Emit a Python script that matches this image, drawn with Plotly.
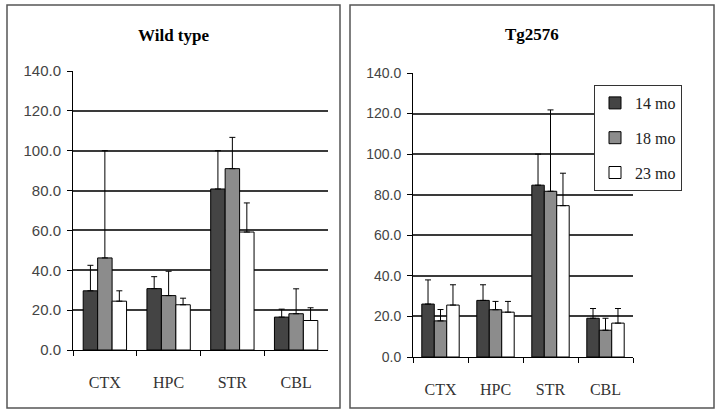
import plotly.graph_objects as go

categories = ["CTX", "HPC", "STR", "CBL"]
series_names = ["14 mo", "18 mo", "23 mo"]

# Wild type: means and upper error magnitudes
wt_14 = [29.7, 30.8, 80.8, 16.5]
wt_18 = [46.2, 27.3, 91.0, 18.2]
wt_23 = [24.5, 22.7, 59.2, 14.8]
wt_14_err = [12.8, 6.0, 19.2, 4.0]
wt_18_err = [53.8, 12.2, 15.7, 12.5]
wt_23_err = [5.2, 3.3, 14.6, 6.4]

# Tg2576
tg_14 = [26.1, 27.9, 84.7, 19.1]
tg_18 = [17.8, 23.3, 81.7, 13.2]
tg_23 = [25.6, 22.1, 74.6, 16.7]
tg_14_err = [11.9, 7.7, 15.3, 4.8]
tg_18_err = [5.6, 4.1, 40.1, 5.9]
tg_23_err = [10.0, 5.3, 16.0, 7.2]

y_ticks = [0, 20, 40, 60, 80, 100, 120, 140]
y_tick_text = ["0.0", "20.0", "40.0", "60.0", "80.0", "100.0", "120.0", "140.0"]

colors = ["#444444", "#8c8c8c", "#ffffff"]

W, H = 720, 414

fig = go.Figure()

panels = [
    ("x", "y", [wt_14, wt_18, wt_23], [wt_14_err, wt_18_err, wt_23_err], False),
    ("x2", "y2", [tg_14, tg_18, tg_23], [tg_14_err, tg_18_err, tg_23_err], True),
]
for xa, ya, vals, errs, show in panels:
    for i, name in enumerate(series_names):
        fig.add_trace(go.Bar(
            x=categories, y=vals[i], name=name,
            xaxis=xa, yaxis=ya,
            marker=dict(color=colors[i], line=dict(color="black", width=1)),
            error_y=dict(type="data", array=errs[i], symmetric=False,
                         arrayminus=[0] * len(categories),
                         color="black", thickness=1, width=3),
            showlegend=show, legendgroup=name,
        ))

def px_x(v):
    return v / W

def px_y(v):
    return 1 - v / H

def y_axis(font_size):
    return dict(
        range=[0, 140], tickvals=y_ticks, ticktext=y_tick_text,
        showgrid=True, gridcolor="#3a3a3a", gridwidth=1.5,
        showline=True, linecolor="black", linewidth=1,
        ticks="outside", ticklen=5, tickcolor="black",
        tickfont=dict(family="Liberation Sans, Arial", size=font_size, color="#444444"),
        ticklabelstandoff=3,
        zeroline=False, fixedrange=True, automargin=False,
    )

axis_common_x = dict(
    showline=True, linecolor="black", linewidth=1,
    ticks="outside", tickson="boundaries", ticklen=5, tickcolor="black",
    tickfont=dict(family="Liberation Serif, Times New Roman", size=16, color="#333333"),
    ticklabelstandoff=18,
    showgrid=False, fixedrange=True, automargin=False,
)

fig.update_layout(
    template="none",
    width=W, height=H,
    margin=dict(l=0, r=0, t=0, b=0, pad=0),
    paper_bgcolor="white", plot_bgcolor="white",
    barmode="group", bargap=0.32, bargroupgap=0,
    xaxis=dict(domain=[px_x(73), px_x(328)], anchor="y", **axis_common_x),
    yaxis=dict(domain=[px_y(350), px_y(71)], anchor="x", **y_axis(15)),
    xaxis2=dict(domain=[px_x(413), px_x(633)], anchor="y2", **axis_common_x),
    yaxis2=dict(domain=[px_y(357), px_y(73)], anchor="x2", **y_axis(14)),
    legend=dict(
        x=px_x(594), y=px_y(85), xanchor="left", yanchor="top",
        bordercolor="#333333", borderwidth=1, bgcolor="white",
        font=dict(family="Liberation Serif, Times New Roman", size=16, color="#222222"),
        tracegroupgap=11, traceorder="grouped",
        itemwidth=30,
    ),
    shapes=[
        dict(type="rect", xref="paper", yref="paper",
             x0=px_x(7), x1=px_x(340), y0=px_y(408), y1=px_y(5),
             line=dict(color="#555555", width=1.5)),
        dict(type="rect", xref="paper", yref="paper",
             x0=px_x(350), x1=px_x(714), y0=px_y(408), y1=px_y(5),
             line=dict(color="#555555", width=1.5)),
    ],
    annotations=[
        dict(text="<b>Wild type</b>", xref="paper", yref="paper",
             x=px_x(173), y=px_y(36), showarrow=False,
             xanchor="center", yanchor="middle",
             font=dict(family="Liberation Serif, Times New Roman", size=17, color="black")),
        dict(text="<b>Tg2576</b>", xref="paper", yref="paper",
             x=px_x(532), y=px_y(34), showarrow=False,
             xanchor="center", yanchor="middle",
             font=dict(family="Liberation Serif, Times New Roman", size=17, color="black")),
    ],
)

fig.write_html("out.html", config={"displayModeBar": False},
               post_script="document.body.style.margin='0';")
